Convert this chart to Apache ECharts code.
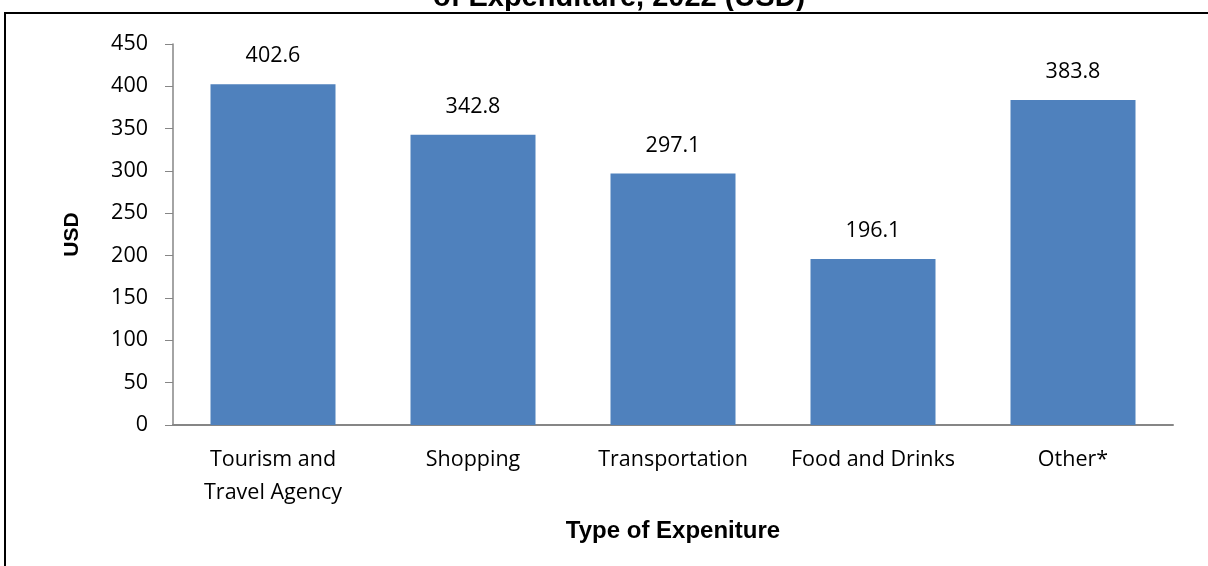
<!DOCTYPE html>
<html><head><meta charset="utf-8">
<script src="https://cdn.jsdelivr.net/npm/echarts@6/dist/echarts.min.js"></script>
<style>html,body{margin:0;padding:0;background:#fff}#c{width:1208px;height:566px}</style>
</head><body><div id="c"></div>
<script>
const categories = ['Tourism and\nTravel Agency', 'Shopping', 'Transportation', 'Food and Drinks', 'Other*'];
const values = [402.6, 342.8, 297.1, 196.1, 383.8];
const titleText = 'of Expenditure, 2022 (USD)';
const yAxisName = 'USD';
const xAxisName = 'Type of Expeniture';

const chart = echarts.init(document.getElementById('c'), null, {renderer: 'canvas'});
const font = '"Open Sans", sans-serif';
const boldFont = 'Arial, "Liberation Sans", sans-serif';
chart.setOption({
  animation: false,
  graphic: [
    {type: 'text', left: 433, z: 1, style: {text: titleText, x: 0, y: 0,
      font: 'bold 29px Arial, "Liberation Sans", sans-serif', fill: '#000'}, top: -17, silent: true},
    {type: 'rect', shape: {x: 0, y: 11, width: 1208, height: 2}, style: {fill: '#fff'}, z: 2, silent: true},
    {type: 'rect', shape: {x: 5, y: 13, width: 1260, height: 600},
      style: {fill: null, stroke: '#000', lineWidth: 2}, z: 3, silent: true}
  ],
  grid: {left: 173, right: 35, top: 44, bottom: 141, containLabel: false},
  xAxis: {type: 'category', data: categories,
    axisLine: {lineStyle: {color: '#868686', width: 2}},
    axisTick: {show: false},
    axisLabel: {interval: 0, hideOverlap: false, fontFamily: font, fontSize: 21.5, color: '#000', margin: 18, lineHeight: 33},
    name: xAxisName, nameLocation: 'middle', nameGap: 94,
    nameTextStyle: {fontFamily: boldFont, fontWeight: 'bold', fontSize: 24, color: '#000'}},
  yAxis: {type: 'value', min: 0, max: 450, interval: 50,
    axisLine: {show: true, lineStyle: {color: '#868686', width: 1.5}},
    axisTick: {show: true, length: 8, lineStyle: {color: '#868686'}},
    splitLine: {show: false},
    axisLabel: {fontFamily: font, fontSize: 21.5, color: '#000', margin: 25},
    name: yAxisName, nameLocation: 'middle', nameGap: 90, nameRotate: 90,
    nameTextStyle: {fontFamily: boldFont, fontWeight: 'bold', fontSize: 21, color: '#000'}},
  series: [{type: 'bar', data: values, barWidth: 125,
    itemStyle: {color: '#4F81BD'},
    label: {show: true, position: 'top', distance: 17, fontFamily: font, fontSize: 21.5, color: '#000',
      formatter: p => p.value.toFixed(1)}}]
});
</script></body></html>
